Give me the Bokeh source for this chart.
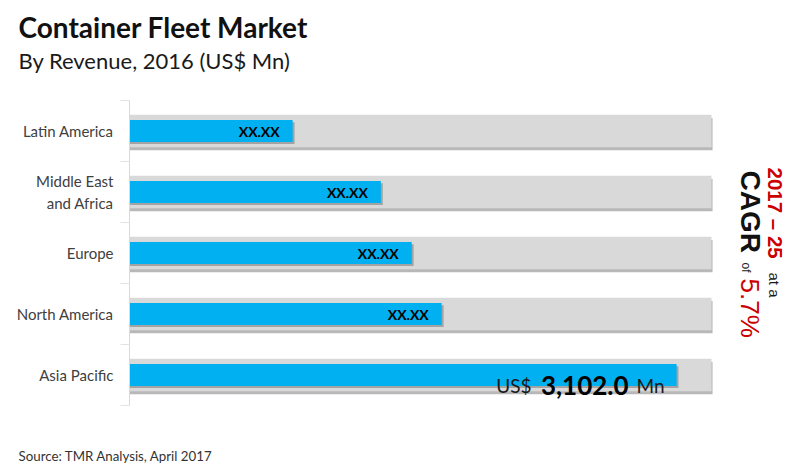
import math
from bokeh.plotting import figure
from bokeh.models import Range1d, FixedTicker, Label, ColumnDataSource
from bokeh.transform import dodge
from bokeh.embed import file_html
from bokeh.resources import INLINE
from bokeh.core.properties import value

# ---- data ----
regions = ["Latin America", "Middle East\nand Africa", "Europe", "North America", "Asia Pacific"]
revenue = [925, 1425, 1600, 1770, 3102.0]
bar_max = [3300, 3300, 3300, 3300, 3300]
value_labels = ["XX.XX", "XX.XX", "XX.XX", "XX.XX", ""]
highlight_region = "Asia Pacific"
highlight_value = [3102.0]
highlight_text = ["3,102.0"]
currency = ["US$"]
unit = ["Mn"]

title = "Container Fleet Market"
subtitle = "By Revenue, 2016 (US$ Mn)"
source_note = "Source: TMR Analysis, April 2017"
cagr_period = "2017 \u2013 25"
cagr_value = "5.7%"

# ---- layout (pixels) ----
W, H = 798, 470
LEFT, TOP, ROW = 129, 100, 61      # axis position, top of first row, row pitch
BAR_RIGHT = 711                    # right end of the background bars
scale = max(bar_max) / (BAR_RIGHT - LEFT)

pos = [i + 0.5 for i in range(len(regions))]
src = ColumnDataSource(dict(pos=pos, region=regions, revenue=revenue, bmax=bar_max, label=value_labels))
hi_pos = [pos[regions.index(highlight_region)]]
hsrc = ColumnDataSource(dict(pos=hi_pos, revenue=highlight_value, txt=highlight_text, cur=currency, unit=unit))

p = figure(width=W, height=H,
           x_range=Range1d(-LEFT * scale, (W - LEFT) * scale),
           y_range=Range1d((H - TOP) / ROW, -TOP / ROW),
           output_backend="svg", toolbar_location=None, x_axis_location=None,
           min_border_left=0, min_border_right=0, min_border_top=0, min_border_bottom=0)
p.grid.visible = False
p.outline_line_color = None
p.background_fill_color = "white"
p.border_fill_color = "white"

# y axis drawn at x = 0
ax = p.yaxis[0]
ax.fixed_location = 0
ax.bounds = (0, len(regions))
ax.ticker = FixedTicker(ticks=pos, minor_ticks=list(range(len(regions) + 1)))
ax.major_label_overrides = {pp: r for pp, r in zip(pos, regions)}
ax.axis_line_color = "#d9d9d9"
ax.major_tick_line_color = None
ax.minor_tick_line_color = "#e3e3e3"
ax.minor_tick_out = 9
ax.minor_tick_in = 0
ax.major_tick_out = 0
ax.major_tick_in = 0
ax.major_label_standoff = 7
ax.major_label_text_font = "Lato"
ax.major_label_text_font_size = "15px"
ax.major_label_text_color = "#404040"

# background bars with shadow
p.hbar(y=dodge("pos", 0.05), left=0, right=dodge("bmax", 6), height=0.53, source=src,
       fill_color="#a6a6a6", fill_alpha=0.8, line_color=None)
p.hbar(y="pos", left=0, right="bmax", height=0.53, source=src, fill_color="#d9d9d9", line_color=None)
# value bars with shadow
p.hbar(y=dodge("pos", 0.035), left=0, right=dodge("revenue", 11), height=0.36, source=src,
       fill_color="#7f7f7f", fill_alpha=0.6, line_color=None)
p.hbar(y="pos", left=0, right="revenue", height=0.36, source=src, fill_color="#00b0f0", line_color=None)

# value labels
p.text(x="revenue", y="pos", text="label", source=src, x_offset=-13, text_align="right",
       text_baseline="middle", text_font=value("Lato"), text_font_style="bold",
       text_font_size="14px", text_color="black")
p.text(x="revenue", y="pos", text="unit", source=hsrc, x_offset=-12, y_offset=10, text_align="right",
       text_baseline="alphabetic", text_font=value("Lato"), text_font_size="19px", text_color="#1a1a1a")
p.text(x="revenue", y="pos", text="txt", source=hsrc, x_offset=-48, y_offset=10, text_align="right",
       text_baseline="alphabetic", text_font=value("Lato"), text_font_style="bold",
       text_font_size="26px", text_color="black")
p.text(x="revenue", y="pos", text="cur", source=hsrc, x_offset=-145, y_offset=10, text_align="right",
       text_baseline="alphabetic", text_font=value("Lato"), text_font_size="19px", text_color="#1a1a1a")


def lab(txt, x, y, size, color="#1a1a1a", font="Lato", style="normal", angle=0.0):
    # x, y: pixel position from the top-left corner of the canvas
    p.add_layout(Label(x=x, y=H - y, x_units="screen", y_units="screen", text=txt, text_font=font,
                       text_font_size=f"{size}px", text_color=color, text_font_style=style,
                       text_align="left", text_baseline="alphabetic", angle=angle))


def hlab(txt, x, y, size, **kw):
    lab(txt, x, y - 0.38 * size, size, **kw)


hlab(title, 18, 37, 28, color="#111111", style="bold")
hlab(subtitle, 18, 68, 22)
hlab(source_note, 18, 461, 13.3, color="#333333")

# CAGR call-out, rotated to read top-to-bottom
rot = -math.pi / 2
def vlab(txt, x, y, size, color="#1a1a1a", style="normal"):
    lab(txt, x + 0.3 * size, y, size, color=color, font="Liberation Sans", style=style, angle=rot)

vlab(cagr_period, 769, 167, 20.5, color="#cc0000", style="bold")
vlab("at a", 769, 272, 15)
vlab("CAGR", 742, 170, 28, color="#111111", style="bold")
vlab("of", 742, 262, 12)
vlab(cagr_value, 742, 278, 26, color="#cc0000")

open("out.html", "w").write(file_html(p, INLINE))
